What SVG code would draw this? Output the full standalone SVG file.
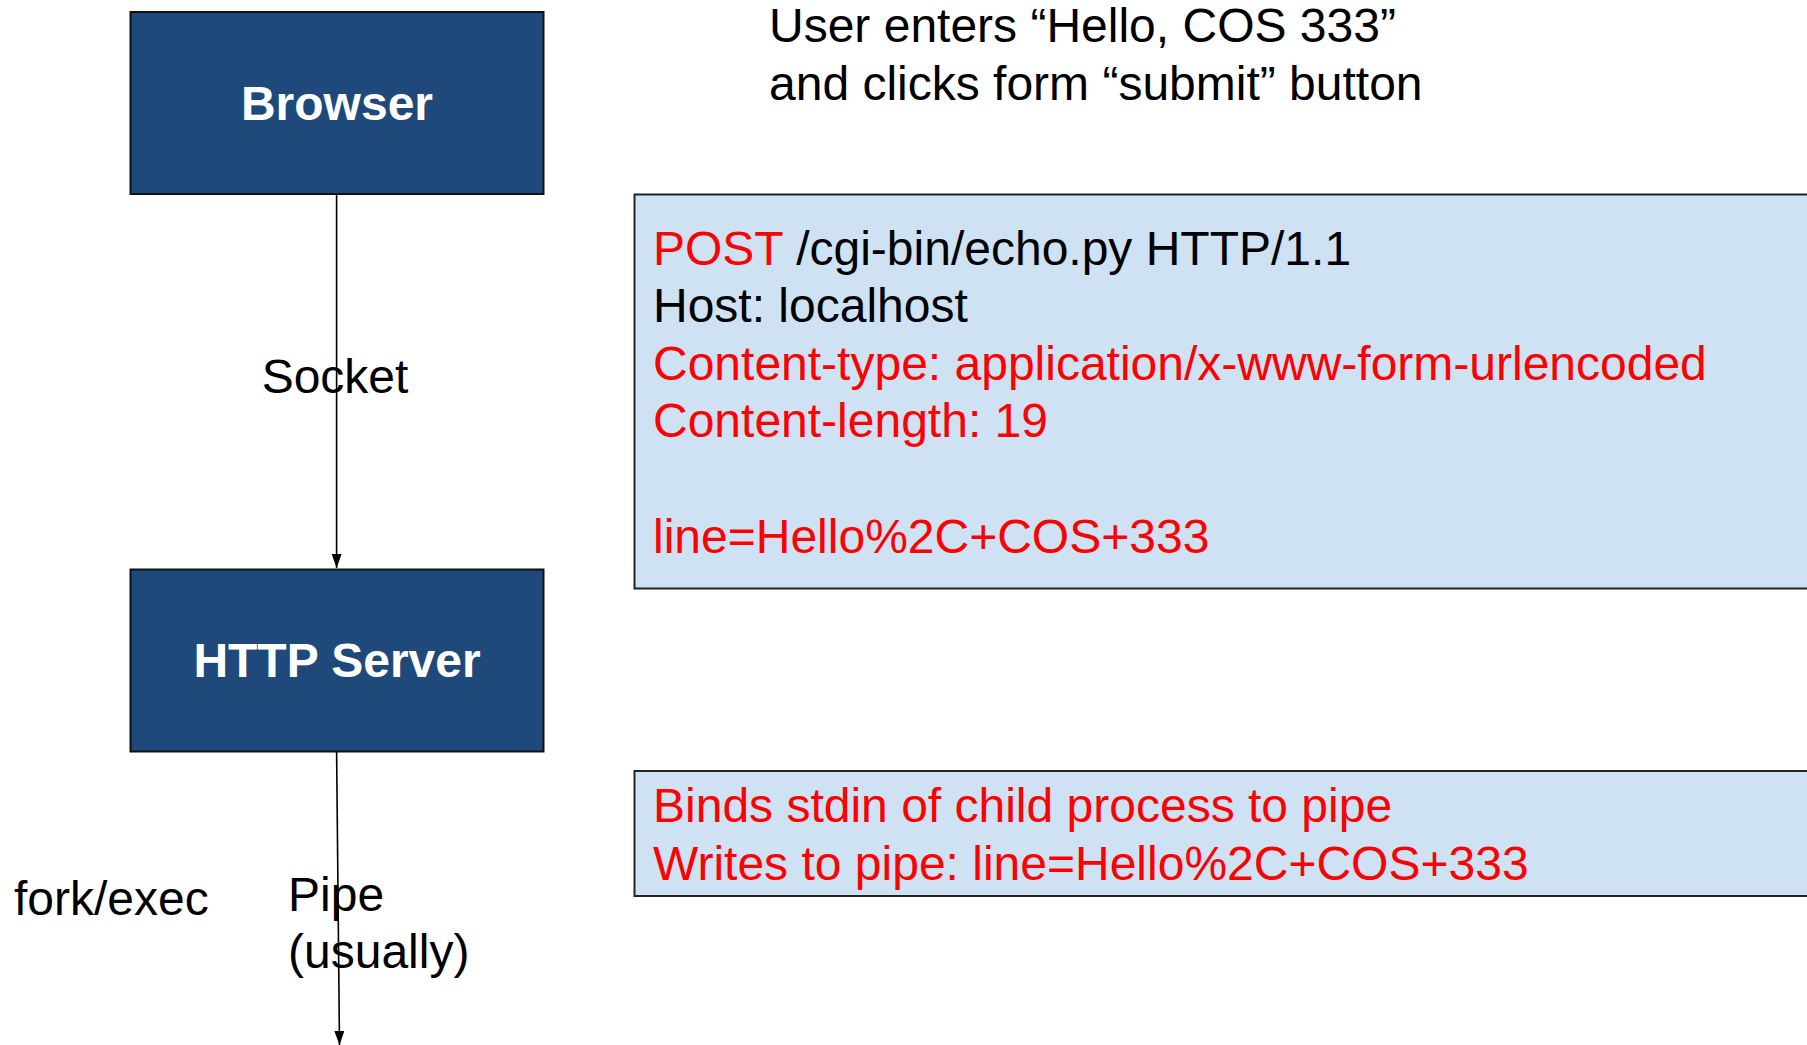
<svg xmlns="http://www.w3.org/2000/svg" width="1807" height="1045" viewBox="0 0 1807 1045">
<style>
text{font-family:"Liberation Sans",Arial,sans-serif;font-size:48px}
.node{fill:#1f497a;stroke:#111;stroke-width:2}
.nlabel{fill:#fff;font-weight:bold;text-anchor:middle}
.note{fill:#cfe2f3;stroke:#222;stroke-width:2}
.red{fill:#ff0000}
.blk{fill:#000}
.conn{stroke:#000;stroke-width:1.6;fill:none}
</style>
<defs>
<marker id="arr" viewBox="0 0 14 10" refX="14" refY="5" markerWidth="14" markerHeight="10" markerUnits="userSpaceOnUse" orient="auto">
<path d="M0,0 L14,5 L0,10 Z" fill="#000"/>
</marker>
</defs>
<rect width="1807" height="1045" fill="#fff"/>
<g id="connectors">
<line class="conn" x1="336.6" y1="194" x2="336.6" y2="568" marker-end="url(#arr)"/>
<line class="conn" x1="336.6" y1="751" x2="339.5" y2="1045" marker-end="url(#arr)"/>
<text class="blk" x="335" y="393" text-anchor="middle">Socket</text>
<text class="blk" x="14" y="915">fork/exec</text>
<text class="blk" x="288" y="911">Pipe</text>
<text class="blk" x="288" y="968">(usually)</text>
</g>
<g id="browser">
<rect class="node" x="130.5" y="12" width="413" height="182"/>
<text class="nlabel" x="337" y="120">Browser</text>
</g>
<g id="http-server">
<rect class="node" x="130.5" y="569.5" width="413" height="182"/>
<text class="nlabel" x="337" y="677">HTTP Server</text>
</g>
<g id="user-note">
<text class="blk" x="769" y="42">User enters “Hello, COS 333”</text>
<text class="blk" x="769" y="100">and clicks form “submit” button</text>
</g>
<g id="request">
<rect class="note" x="634.5" y="194.5" width="1200" height="394"/>
<text x="653" y="265"><tspan class="red">POST</tspan><tspan class="blk"> /cgi-bin/echo.py HTTP/1.1</tspan></text>
<text class="blk" x="653" y="322">Host: localhost</text>
<text class="red" x="653" y="380">Content-type: application/x-www-form-urlencoded</text>
<text class="red" x="653" y="437">Content-length: 19</text>
<text class="red" x="653" y="553">line=Hello%2C+COS+333</text>
</g>
<g id="pipe-note">
<rect class="note" x="634.5" y="771" width="1200" height="125"/>
<text class="red" x="653" y="822">Binds stdin of child process to pipe</text>
<text class="red" x="653" y="880">Writes to pipe: line=Hello%2C+COS+333</text>
</g>
</svg>
